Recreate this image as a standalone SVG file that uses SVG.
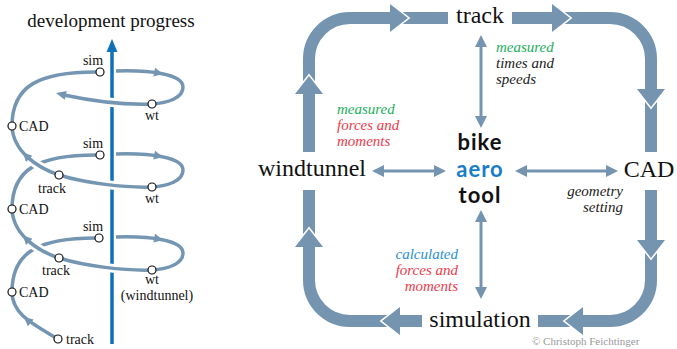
<svg xmlns="http://www.w3.org/2000/svg" width="677" height="349" viewBox="0 0 677 349">
<defs>
<style>
.band{fill:none;stroke:#7594b0;stroke-width:12;stroke-linecap:butt}
.gap{fill:none;stroke:#fff;stroke-width:3;stroke-linejoin:miter}
.head{fill:#7594b0}
.thin{fill:none;stroke:#7594b0;stroke-width:3}
.hx{fill:none;stroke:#7596b2;stroke-width:3.5}
.case{fill:none;stroke:#fff;stroke-width:9}
.sh{fill:#7596b2}
.pt{fill:#fff;stroke:#111;stroke-width:1.2}
.lbl{font-family:"Liberation Serif","Times New Roman",serif;font-size:14px;fill:#111}
.node{font-family:"Liberation Serif","Times New Roman",serif;font-size:24px;fill:#111;text-anchor:middle}
.it{font-family:"Liberation Serif","Times New Roman",serif;font-style:italic;font-size:15px}
.big{font-family:Lato,"Noto Sans",sans-serif;font-weight:bold;font-size:22px;letter-spacing:1px;text-anchor:middle}
</style>
<marker id="ah" markerUnits="userSpaceOnUse" markerWidth="12" markerHeight="12" refX="0" refY="6" orient="auto-start-reverse" viewBox="0 0 12 12">
<path d="M0,0 L12,6 L0,12 z" fill="#7594b0"/>
</marker>
</defs>
<rect width="677" height="349" fill="#fff"/>

<g id="helix">
<text class="lbl" x="111" y="27" style="font-size:19px" text-anchor="middle">development progress</text>
<g id="helix-back">
<path class="hx" d="M58,339 C35,325 12,315 12,292"/>
<path class="hx" d="M12,292 C12,251 40,238 96,238"/>
<path class="hx" d="M12,209 C12,168 40,155 96,155"/>
<path class="hx" d="M12,126 C12,85 40,72 96,72"/>
<path class="hx" d="M116,71 C150,70 183,74 183,87 C183,98 168,103 152,104"/>
<path class="hx" d="M116,154 C150,153 183,157 183,170 C183,181 168,186 152,187"/>
<path class="hx" d="M116,237 C150,236 183,240 183,253 C183,264 168,269 152,270"/>
</g>
<g id="axis">
<line x1="112" y1="344" x2="112" y2="50" stroke="#1071b8" stroke-width="3.5"/>
<path d="M112,39 L117.5,52 L106.5,52 z" fill="#1071b8"/>
</g>
<g id="helix-front">
<path class="case" d="M152,270 C125,271 85,266 59,258 C38,251 13,235 12,209"/>
<path class="hx" d="M152,270 C125,271 85,266 59,258 C38,251 13,235 12,209"/>
<path class="case" d="M152,187 C125,188 85,183 59,175 C38,168 13,152 12,126"/>
<path class="hx" d="M152,187 C125,188 85,183 59,175 C38,168 13,152 12,126"/>
<path class="case" d="M152,104 C125,105 92,101 64,95"/>
<path class="hx" d="M152,104 C125,105 92,101 64,95"/>
</g>
<g id="helix-heads">
<path class="sh" d="M163,74 L153.3,76.6 L155.1,67.8 z"/>
<path class="sh" d="M163,157 L153.3,159.6 L155.1,150.8 z"/>
<path class="sh" d="M163,240 L153.3,242.6 L155.1,233.8 z"/>
<path class="sh" d="M56,93 L66.8,90.9 L64.7,99.7 z"/>
<path class="sh" d="M22.9,152.5 L32.4,155.75 L26,162.05 z"/>
<path class="sh" d="M22.9,235.5 L32.4,238.75 L26,245.05 z"/>
<path class="sh" d="M24,317 L33.7,319.5 L27.8,326.3 z"/>
</g>
<g id="helix-points">
<circle class="pt" cx="100" cy="72" r="4"/>
<circle class="pt" cx="100" cy="155" r="4"/>
<circle class="pt" cx="99" cy="238" r="4"/>
<circle class="pt" cx="152" cy="104" r="4"/>
<circle class="pt" cx="152" cy="187" r="4"/>
<circle class="pt" cx="152" cy="270" r="4"/>
<circle class="pt" cx="12" cy="126" r="4"/>
<circle class="pt" cx="12" cy="209" r="4"/>
<circle class="pt" cx="12" cy="292" r="4"/>
<circle class="pt" cx="59" cy="175" r="4"/>
<circle class="pt" cx="59" cy="258" r="4"/>
<circle class="pt" cx="58" cy="339" r="4"/>
</g>
<g id="helix-labels">
<text class="lbl" x="93" y="65" text-anchor="middle">sim</text>
<text class="lbl" x="93" y="148" text-anchor="middle">sim</text>
<text class="lbl" x="93" y="231" text-anchor="middle">sim</text>
<text class="lbl" x="152" y="120" text-anchor="middle">wt</text>
<text class="lbl" x="152" y="203" text-anchor="middle">wt</text>
<text class="lbl" x="152" y="284" text-anchor="middle">wt</text>
<text class="lbl" x="157" y="300" text-anchor="middle">(windtunnel)</text>
<text class="lbl" x="19" y="131">CAD</text>
<text class="lbl" x="19" y="214">CAD</text>
<text class="lbl" x="19" y="297">CAD</text>
<text class="lbl" x="52" y="193" text-anchor="middle">track</text>
<text class="lbl" x="56" y="275" text-anchor="middle">track</text>
<text class="lbl" x="66" y="344">track</text>
</g>
</g>

<g id="connectors">
<g id="cycle-bands">
<path class="band" d="M309,152 V94"/>
<path class="band" d="M309,94 V59 A41,41 0 0 1 350,18 H390"/>
<path class="band" d="M390,18 H448"/>
<path class="band" d="M512,18 H552"/>
<path class="band" d="M552,18 H610 A41,41 0 0 1 651,59 V89"/>
<path class="band" d="M651,89 V152"/>
<path class="band" d="M651,190 V240"/>
<path class="band" d="M651,240 V280 A41,41 0 0 1 610,321 H583"/>
<path class="band" d="M583,321 H538"/>
<path class="band" d="M422,321 H400"/>
<path class="band" d="M400,321 H350 A41,41 0 0 1 309,280 V247"/>
<path class="band" d="M309,247 V190"/>
</g>
<g id="cycle-gaps">
<polyline class="gap" points="323,94 309,76 295,94"/>
<polyline class="gap" points="390,4 408,18 390,32"/>
<polyline class="gap" points="552,4 570,18 552,32"/>
<polyline class="gap" points="665,89 651,107 637,89"/>
<polyline class="gap" points="665,240 651,258 637,240"/>
<polyline class="gap" points="583,307 565,321 583,335"/>
<polyline class="gap" points="400,307 382,321 400,335"/>
<polyline class="gap" points="295,247 309,229 323,247"/>
</g>
<g id="cycle-heads">
<path class="head" d="M309,76 L323,94 L295,94 z"/>
<path class="head" d="M408,18 L390,4 L390,32 z"/>
<path class="head" d="M570,18 L552,4 L552,32 z"/>
<path class="head" d="M651,107 L665,89 L637,89 z"/>
<path class="head" d="M651,258 L665,240 L637,240 z"/>
<path class="head" d="M565,321 L583,307 L583,335 z"/>
<path class="head" d="M382,321 L400,307 L400,335 z"/>
<path class="head" d="M309,229 L295,247 L323,247 z"/>
</g>
<g id="tool-links">
<line class="thin" x1="384" y1="171" x2="434" y2="171" marker-start="url(#ah)" marker-end="url(#ah)"/>
<line class="thin" x1="527" y1="171" x2="606" y2="171" marker-start="url(#ah)" marker-end="url(#ah)"/>
<line class="thin" x1="481" y1="47" x2="481" y2="116" marker-start="url(#ah)" marker-end="url(#ah)"/>
<line class="thin" x1="481" y1="222" x2="481" y2="287" marker-start="url(#ah)" marker-end="url(#ah)"/>
</g>
</g>

<g id="track"><text class="node" x="480" y="23">track</text></g>
<g id="cad"><text class="node" x="649" y="177">CAD</text></g>
<g id="simulation"><text class="node" x="480" y="327">simulation</text></g>
<g id="windtunnel"><text class="node" x="312" y="176">windtunnel</text></g>
<g id="bike-aero-tool">
<text class="big" x="480" y="150" fill="#111">bike</text>
<text class="big" x="480" y="176.5" fill="#1a7dc8">aero</text>
<text class="big" x="480" y="203" fill="#111">tool</text>
</g>

<g id="label-track">
<text class="it" x="496" y="52" fill="#22b05a">measured</text>
<text class="it" x="496" y="68" fill="#222">times and</text>
<text class="it" x="496" y="84" fill="#222">speeds</text>
</g>
<g id="label-windtunnel">
<text class="it" x="337" y="114" fill="#22b05a">measured</text>
<text class="it" x="337" y="130" fill="#ee3a4a">forces and</text>
<text class="it" x="337" y="146" fill="#ee3a4a">moments</text>
</g>
<g id="label-cad" text-anchor="end">
<text class="it" x="623" y="196" fill="#222">geometry</text>
<text class="it" x="623" y="212" fill="#222">setting</text>
</g>
<g id="label-simulation" text-anchor="end">
<text class="it" x="458" y="259" fill="#2a90d8">calculated</text>
<text class="it" x="458" y="275" fill="#ee3a4a">forces and</text>
<text class="it" x="458" y="291" fill="#ee3a4a">moments</text>
</g>
<text x="532" y="345" font-family="Liberation Serif,serif" font-size="11" fill="#999">© Christoph Feichtinger</text>
</svg>
